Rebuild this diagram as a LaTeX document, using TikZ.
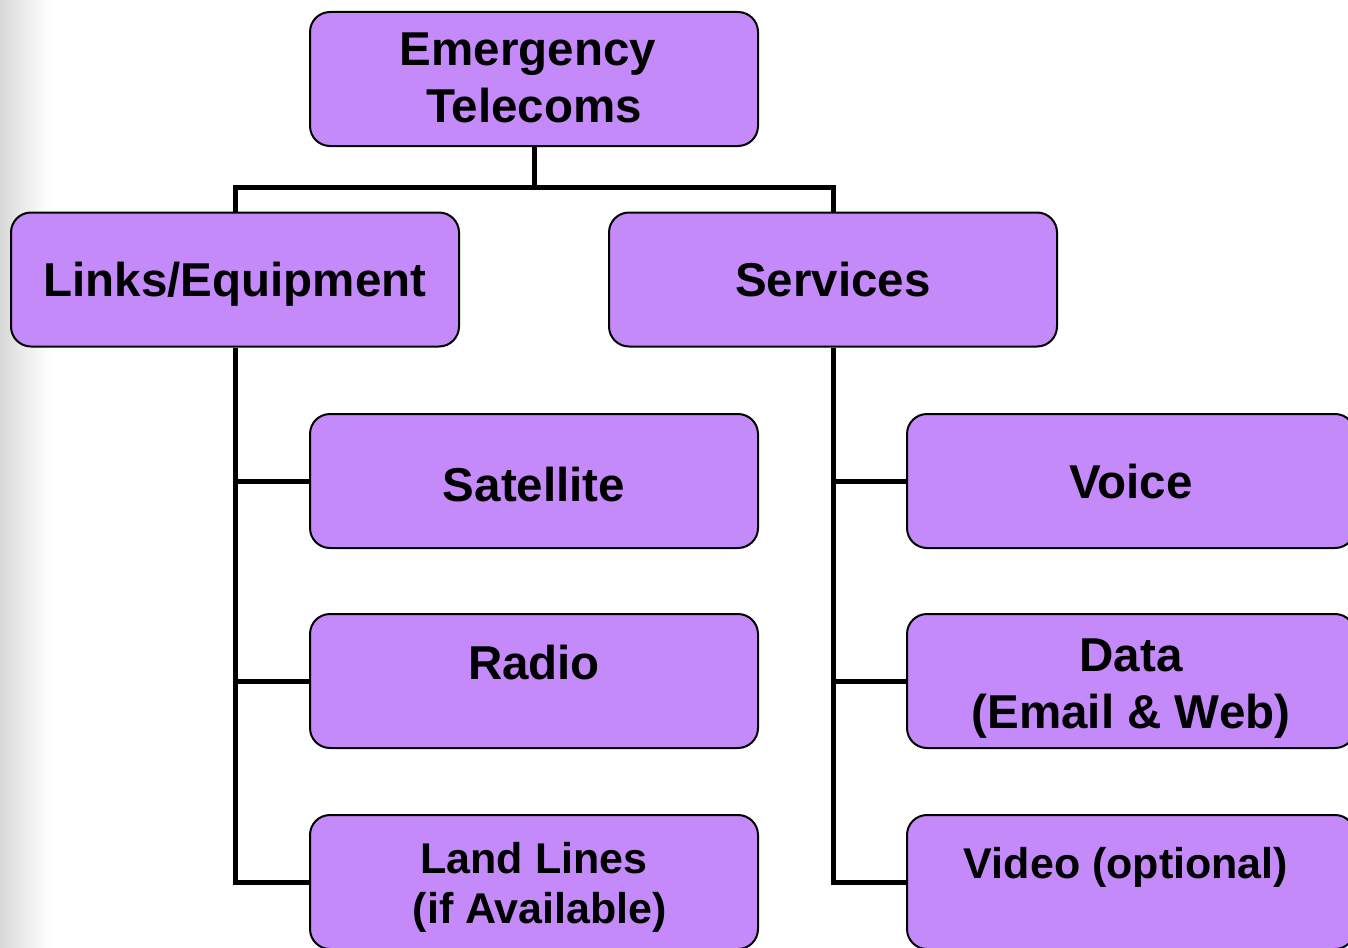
\documentclass[tikz,border=0pt]{standalone}
\usepackage{fontspec}
\setmainfont{Liberation Sans}
\definecolor{boxc}{HTML}{C48AF9}
\begin{document}
\begin{tikzpicture}[x=1pt,y=-1pt,
  box/.style={draw=black, line width=2pt, fill=boxc, rounded corners=20pt,
    minimum width=448pt, minimum height=134pt, inner sep=0pt},
  lbl/.style={anchor=base, inner sep=0pt, font=\fontsize{47.5}{57}\selectfont\bfseries},
  slbl/.style={anchor=base, inner sep=0pt, font=\fontsize{43}{50}\selectfont\bfseries},
  conn/.style={line width=5pt}]
\useasboundingbox (0,0) rectangle (1348,947);
\clip (0,0) rectangle (1348,947);
\shade[left color=black!15, right color=white] (0,0) rectangle (50,947);
% boxes
\node[box] (top) at (534,79) {};
\node[box] (links) at (235,279.5) {};
\node[box] (services) at (833,279.5) {};
\node[box] (sat) at (534,481) {};
\node[box] (radio) at (534,681) {};
\node[box] (land) at (534,882) {};
\node[box] (voice) at (1131,481) {};
\node[box] (data) at (1131,681) {};
\node[box] (video) at (1131,882) {};
% connectors
\coordinate (hub) at (534,187);
\draw[conn] (top.south) -- (hub);
\draw[conn] (links.north) |- (hub) -| (services.north);
\draw[conn] (links.south) |- (land.west);
\draw[conn] (links.south |- sat.west) -- (sat.west);
\draw[conn] (links.south |- radio.west) -- (radio.west);
\draw[conn] (services.south) |- (video.west);
\draw[conn] (services.south |- voice.west) -- (voice.west);
\draw[conn] (services.south |- data.west) -- (data.west);
% labels
\node[lbl] (t1a) at (528,66) {Emergency};
\node[lbl] (t1b) at (534,123) {Telecoms};
\node[lbl] (t2) at (235,296) {Links/Equipment};
\node[lbl] (t3) at (833,296) {Services};
\node[lbl] (t4) at (534,501) {Satellite};
\node[lbl] (t5) at (534,679) {Radio};
\node[slbl] (t6a) at (534,873) {Land Lines};
\node[slbl] (t6b) at (540,923) {(if Available)};
\node[lbl] (t7) at (1131,498) {Voice};
\node[lbl] (t8a) at (1131,671) {Data};
\node[lbl] (t8b) at (1131,728) {(Email \& Web)};
\node[slbl] (t9) at (1126,878) {Video (optional)};
\end{tikzpicture}
\end{document}
